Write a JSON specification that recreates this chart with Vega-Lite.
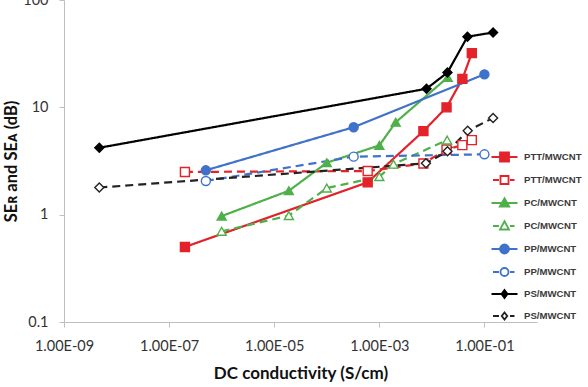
{
  "$schema": "https://vega.github.io/schema/vega-lite/v6.json",
  "width": 473,
  "height": 322,
  "autosize": {"type": "none"},
  "padding": {"left": 64, "top": 0, "right": 51, "bottom": 65},
  "background": "white",
  "config": {"view": {"stroke": null}, "font": "Lato"},
  "data": {
    "values": [
      {"series": "PTT/MWCNT|R", "x": 2e-7, "y": 0.5},
      {"series": "PTT/MWCNT|R", "x": 6e-4, "y": 2.0},
      {"series": "PTT/MWCNT|R", "x": 6.9e-3, "y": 6.0},
      {"series": "PTT/MWCNT|R", "x": 1.9e-2, "y": 10},
      {"series": "PTT/MWCNT|R", "x": 3.8e-2, "y": 18.4},
      {"series": "PTT/MWCNT|R", "x": 5.75e-2, "y": 32},
      {"series": "PTT/MWCNT|A", "x": 2e-7, "y": 2.5},
      {"series": "PTT/MWCNT|A", "x": 6e-4, "y": 2.55},
      {"series": "PTT/MWCNT|A", "x": 6.9e-3, "y": 3.0},
      {"series": "PTT/MWCNT|A", "x": 1.9e-2, "y": 4.05},
      {"series": "PTT/MWCNT|A", "x": 3.8e-2, "y": 4.45},
      {"series": "PTT/MWCNT|A", "x": 5.75e-2, "y": 4.95},
      {"series": "PC/MWCNT|R", "x": 1e-6, "y": 0.97},
      {"series": "PC/MWCNT|R", "x": 1.9e-5, "y": 1.67},
      {"series": "PC/MWCNT|R", "x": 1e-4, "y": 3.05},
      {"series": "PC/MWCNT|R", "x": 1e-3, "y": 4.42},
      {"series": "PC/MWCNT|R", "x": 2.05e-3, "y": 7.26},
      {"series": "PC/MWCNT|R", "x": 2e-2, "y": 19},
      {"series": "PC/MWCNT|A", "x": 1e-6, "y": 0.7},
      {"series": "PC/MWCNT|A", "x": 1.9e-5, "y": 0.98},
      {"series": "PC/MWCNT|A", "x": 1e-4, "y": 1.77},
      {"series": "PC/MWCNT|A", "x": 1e-3, "y": 2.26},
      {"series": "PC/MWCNT|A", "x": 1.86e-3, "y": 2.95},
      {"series": "PC/MWCNT|A", "x": 1.95e-2, "y": 4.95},
      {"series": "PP/MWCNT|R", "x": 5e-7, "y": 2.59},
      {"series": "PP/MWCNT|R", "x": 3.25e-4, "y": 6.53},
      {"series": "PP/MWCNT|R", "x": 0.1, "y": 20.3},
      {"series": "PP/MWCNT|A", "x": 5e-7, "y": 2.06},
      {"series": "PP/MWCNT|A", "x": 3.25e-4, "y": 3.47},
      {"series": "PP/MWCNT|A", "x": 0.1, "y": 3.65},
      {"series": "PS/MWCNT|R", "x": 4.7e-9, "y": 4.2},
      {"series": "PS/MWCNT|R", "x": 7.9e-3, "y": 14.9},
      {"series": "PS/MWCNT|R", "x": 1.98e-2, "y": 21.1},
      {"series": "PS/MWCNT|R", "x": 4.75e-2, "y": 45.5},
      {"series": "PS/MWCNT|R", "x": 0.146, "y": 49.8},
      {"series": "PS/MWCNT|A", "x": 4.7e-9, "y": 1.79},
      {"series": "PS/MWCNT|A", "x": 7.7e-3, "y": 3.01},
      {"series": "PS/MWCNT|A", "x": 1.98e-2, "y": 3.89},
      {"series": "PS/MWCNT|A", "x": 4.8e-2, "y": 6.04},
      {"series": "PS/MWCNT|A", "x": 0.146, "y": 7.96}
    ]
  },
  "encoding": {
    "x": {
      "field": "x", "type": "quantitative",
      "scale": {"type": "log", "domain": [1e-9, 1]},
      "axis": {
        "values": [1e-9, 1e-7, 1e-5, 1e-3, 1e-1],
        "labelExpr": "'1.00E-0' + round(-log(datum.value)/LN10)",
        "grid": false,
        "domainColor": "#bfbfbf", "tickColor": "#bfbfbf", "tickSize": 5,
        "labelFont": "Lato", "labelFontSize": 14.5, "labelColor": "#333333", "labelPadding": 12,
        "labelFlush": false, "labelOverlap": false,
        "title": "DC conductivity (S/cm)",
        "titleFont": "Lato", "titleFontSize": 17, "titleFontWeight": "bold", "titleColor": "#111111",
        "titleBaseline": "alphabetic", "titleY": 56
      }
    },
    "y": {
      "field": "y", "type": "quantitative",
      "scale": {"type": "log", "domain": [0.1, 100]},
      "axis": {
        "values": [0.1, 1, 10, 100],
        "format": ".1~f",
        "grid": false,
        "domainColor": "#bfbfbf", "tickColor": "#bfbfbf", "tickSize": 5,
        "labelFont": "Lato", "labelFontSize": 14.5, "labelColor": "#333333", "labelPadding": 11,
        "labelFlush": false, "labelOverlap": false,
        "title": "SEʀ and SEᴀ (dB)",
        "titleFont": "Lato", "titleFontSize": 16.5, "titleFontWeight": "bold", "titleColor": "#111111",
        "titleX": -45, "titleY": 161
      }
    }
  },
  "layer": [
    {
      "mark": {"type": "line", "strokeWidth": 2.2, "strokeCap": "butt"},
      "encoding": {
        "color": {
          "field": "series", "type": "nominal", "legend": null,
          "scale": {
            "domain": ["PTT/MWCNT|R", "PTT/MWCNT|A", "PC/MWCNT|R", "PC/MWCNT|A", "PP/MWCNT|R", "PP/MWCNT|A", "PS/MWCNT|R", "PS/MWCNT|A"],
            "range": ["#e3222a", "#e3222a", "#4fb04a", "#4fb04a", "#3f72c9", "#3f72c9", "#000000", "#222222"]
          }
        },
        "strokeDash": {
          "field": "series", "type": "nominal", "legend": null,
          "scale": {
            "domain": ["PTT/MWCNT|R", "PTT/MWCNT|A", "PC/MWCNT|R", "PC/MWCNT|A", "PP/MWCNT|R", "PP/MWCNT|A", "PS/MWCNT|R", "PS/MWCNT|A"],
            "range": [[1, 0], [8, 5], [1, 0], [8, 5], [1, 0], [8, 5], [1, 0], [8, 5]]
          }
        }
      }
    },
    {
      "mark": {"type": "point", "strokeWidth": 1.4, "opacity": 1},
      "encoding": {
        "shape": {
          "field": "series", "type": "nominal", "legend": null,
          "scale": {
            "domain": ["PTT/MWCNT|R", "PTT/MWCNT|A", "PC/MWCNT|R", "PC/MWCNT|A", "PP/MWCNT|R", "PP/MWCNT|A", "PS/MWCNT|R", "PS/MWCNT|A"],
            "range": ["square", "square", "triangle-up", "triangle-up", "circle", "circle", "diamond", "diamond"]
          }
        },
        "size": {
          "field": "series", "type": "nominal", "legend": null,
          "scale": {
            "domain": ["PTT/MWCNT|R", "PTT/MWCNT|A", "PC/MWCNT|R", "PC/MWCNT|A", "PP/MWCNT|R", "PP/MWCNT|A", "PS/MWCNT|R", "PS/MWCNT|A"],
            "range": [81, 81, 90, 90, 81, 81, 60, 60]
          }
        },
        "fill": {
          "field": "series", "type": "nominal", "legend": null,
          "scale": {
            "domain": ["PTT/MWCNT|R", "PTT/MWCNT|A", "PC/MWCNT|R", "PC/MWCNT|A", "PP/MWCNT|R", "PP/MWCNT|A", "PS/MWCNT|R", "PS/MWCNT|A"],
            "range": ["#e3222a", "#ffffff", "#4fb04a", "#ffffff", "#3f72c9", "#ffffff", "#000000", "#ffffff"]
          }
        },
        "stroke": {
          "field": "series", "type": "nominal", "legend": null,
          "scale": {
            "domain": ["PTT/MWCNT|R", "PTT/MWCNT|A", "PC/MWCNT|R", "PC/MWCNT|A", "PP/MWCNT|R", "PP/MWCNT|A", "PS/MWCNT|R", "PS/MWCNT|A"],
            "range": ["#e3222a", "#e3222a", "#4fb04a", "#4fb04a", "#3f72c9", "#3f72c9", "#000000", "#222222"]
          }
        }
      }
    },
    {
      "mark": {"type": "point", "opacity": 0},
      "encoding": {
        "shape": {
          "field": "series", "type": "nominal",
          "scale": {
            "domain": ["PTT/MWCNT|R", "PTT/MWCNT|A", "PC/MWCNT|R", "PC/MWCNT|A", "PP/MWCNT|R", "PP/MWCNT|A", "PS/MWCNT|R", "PS/MWCNT|A"],
            "range": [
              "M-2.6 0H2.6M-0.9 -0.9H0.9V0.9H-0.9Z",
              "M-2.3 0H-1.1M1.1 0H2.0M-0.8 -0.8H0.8V0.8H-0.8Z",
              "M-2.6 0H2.6M0 -0.95L0.95 0.7H-0.95Z",
              "M-2.3 0H-1.1M1.1 0H2.0M0 -0.95L0.9 0.7H-0.9Z",
              "M-2.6 0H2.6M0.9 0A0.9 0.9 0 1 1 -0.9 0A0.9 0.9 0 1 1 0.9 0Z",
              "M-2.3 0H-1.1M1.1 0H2.0M0.8 0A0.8 0.8 0 1 1 -0.8 0A0.8 0.8 0 1 1 0.8 0Z",
              "M-2.6 0H2.6M0 -0.8L0.6 0L0 0.8L-0.6 0Z",
              "M-2.3 0H-1.1M1.1 0H2.0M0 -0.7L0.55 0L0 0.7L-0.55 0Z"
            ]
          },
          "legend": {
            "title": null,
            "orient": "none",
            "legendX": 434.5,
            "legendY": 151,
            "padding": 0,
            "symbolSize": 100,
            "symbolStrokeWidth": 1.8,
            "symbolOpacity": 1,
            "labelOffset": 13.5,
            "rowPadding": 6,
            "labelFont": "Liberation Sans",
            "labelFontWeight": "bold",
            "labelFontSize": 9.6,
            "labelColor": "#3a3a3a",
            "labelExpr": "split(datum.label, '|')[0]"
          }
        },
        "fill": {
          "field": "series", "type": "nominal",
          "scale": {
            "domain": ["PTT/MWCNT|R", "PTT/MWCNT|A", "PC/MWCNT|R", "PC/MWCNT|A", "PP/MWCNT|R", "PP/MWCNT|A", "PS/MWCNT|R", "PS/MWCNT|A"],
            "range": ["#e3222a", "#ffffff", "#4fb04a", "#ffffff", "#3f72c9", "#ffffff", "#000000", "#ffffff"]
          }
        },
        "stroke": {
          "field": "series", "type": "nominal",
          "scale": {
            "domain": ["PTT/MWCNT|R", "PTT/MWCNT|A", "PC/MWCNT|R", "PC/MWCNT|A", "PP/MWCNT|R", "PP/MWCNT|A", "PS/MWCNT|R", "PS/MWCNT|A"],
            "range": ["#e3222a", "#e3222a", "#4fb04a", "#4fb04a", "#3f72c9", "#3f72c9", "#000000", "#222222"]
          }
        }
      }
    }
  ],
  "resolve": {"scale": {"shape": "independent", "fill": "independent", "stroke": "independent", "size": "independent"}}
}
